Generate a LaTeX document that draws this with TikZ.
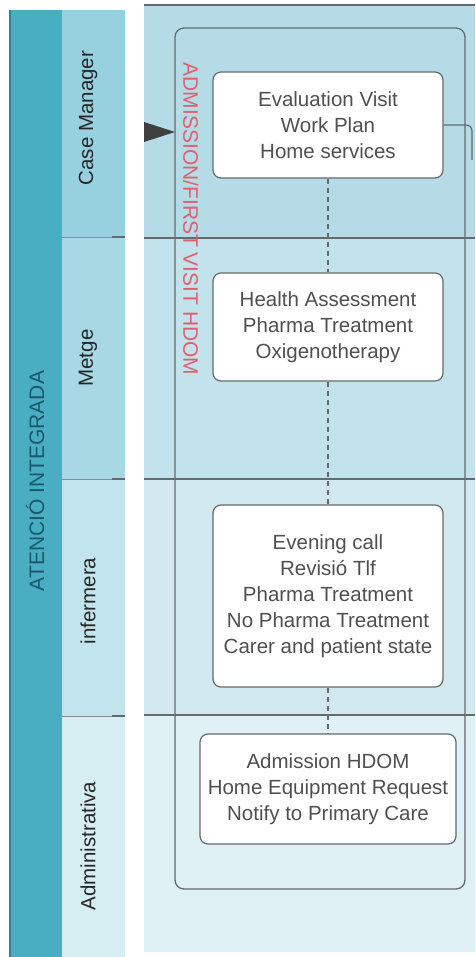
\documentclass[tikz,border=0pt]{standalone}
\usepackage{fontspec}
\setmainfont{Liberation Sans}
\usetikzlibrary{calc}

\definecolor{stripblue}{HTML}{4AAEC3}
\definecolor{stripedge}{HTML}{2B8599}
\definecolor{striptext}{HTML}{17596A}
\definecolor{colA}{HTML}{97D1DF}
\definecolor{colB}{HTML}{A7D8E4}
\definecolor{colC}{HTML}{C2E4EC}
\definecolor{colD}{HTML}{D6EDF2}
\definecolor{laneA}{HTML}{B5DCE6}
\definecolor{laneB}{HTML}{C2E3EB}
\definecolor{laneC}{HTML}{D1E9EF}
\definecolor{laneD}{HTML}{E0F1F5}
\definecolor{linegrey}{HTML}{646A6D}
\definecolor{taskgrey}{HTML}{505050}
\definecolor{groupred}{HTML}{E0606E}

\tikzset{
  task/.style={draw=linegrey, line width=1.2pt, fill=white, rounded corners=8pt,
    align=center, text=taskgrey, inner sep=0pt, font=\fontsize{20.5}{26}\selectfont},
  lanename/.style={rotate=90, text=black!85, font=\fontsize{20.5}{22}\selectfont},
  divider/.style={linegrey, line width=1.3pt},
  flowline/.style={linegrey, line width=1.2pt}
}

\begin{document}
\begin{tikzpicture}[x=1pt,y=-1pt]
\useasboundingbox (0,0) rectangle (475,957);

% pool strip and lane names
\fill[stripblue] (9,10) rectangle (62,957);
\fill[stripedge] (9,10) rectangle (11,957);
\fill[colA] (62,10) rectangle (125,237);
\fill[colB] (62,237) rectangle (125,479);
\fill[colC] (62,479) rectangle (125,716);
\fill[colD] (62,716) rectangle (125,957);
\foreach \y in {237,479,716} {
  \draw[black!45, line width=0.5pt] (62,\y) -- (125,\y);
  \draw[linegrey, line width=1.5pt] (112,\y) -- (125,\y);
}

\node[rotate=90, text=striptext, font=\fontsize{21}{22}\selectfont] (pool) at (35,481) {ATENCIÓ INTEGRADA};
\node[lanename] (casemgr) at (88,118) {Case Manager};
\node[lanename] (metge) at (88,358) {Metge};
\node[lanename] (infer) at (88,601) {infermera};
\node[lanename] (admin) at (88,846) {Administrativa};

% lanes
\fill[laneA] (144,5) rectangle (475,238);
\fill[laneB] (144,238) rectangle (475,479);
\fill[laneC] (144,479) rectangle (475,715);
\fill[laneD] (144,715) rectangle (475,952);
\draw[divider] (144,5) -- (475,5);
\foreach \y in {238,479,715}
  \draw[divider] (144,\y) -- (475,\y);

% sub-process
\draw[linegrey, line width=1.3pt, rounded corners=9pt] (175,28) rectangle (465,889);
\node[rotate=-90, text=groupred, font=\fontsize{21}{22}\selectfont] (grp) at (191,219) {ADMISSION/FIRST VISIT HDOM};
\fill[black!75] (144,122) -- (175,132) -- (144,142) -- cycle;

% tasks
\node[task, minimum width=230pt, minimum height=106pt] (evalv) at (328,125) {Evaluation Visit\\Work Plan\\Home services};
\node[task, minimum width=230pt, minimum height=108pt] (health) at (328,327) {Health Assessment\\Pharma Treatment\\Oxigenotherapy};
\node[task, minimum width=230pt, minimum height=182pt] (evening) at (328,596) {Evening call\\Revisió Tlf\\Pharma Treatment\\No Pharma Treatment\\Carer and patient state};
\node[task, minimum width=256pt, minimum height=110pt] (admis) at (328,789) {Admission HDOM\\Home Equipment Request\\Notify to Primary Care};

\draw[flowline, dash pattern=on 5pt off 4pt] (evalv) -- (health);
\draw[flowline, dash pattern=on 5pt off 4pt] (health) -- (evening);
\draw[flowline, dash pattern=on 5pt off 4pt] (evening) -- (admis);

\coordinate (out) at (472,160);
\draw[flowline, rounded corners=6pt] (evalv.east) -| (out);

\end{tikzpicture}
\end{document}
